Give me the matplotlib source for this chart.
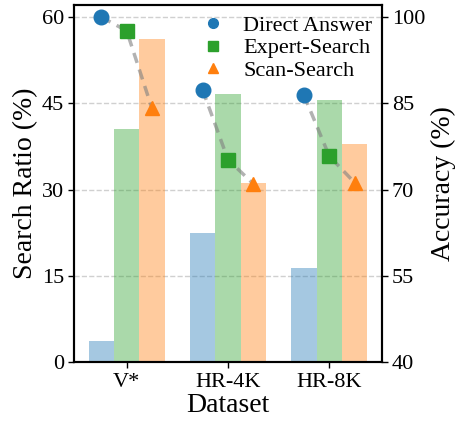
import matplotlib
matplotlib.use("Agg")
import matplotlib.pyplot as plt
import numpy as np
from matplotlib.lines import Line2D

plt.rcParams['font.family'] = ['Liberation Serif', 'DejaVu Serif']
plt.rcParams['mathtext.fontset'] = 'stix'

datasets = ['V*', 'HR-4K', 'HR-8K']
methods = ['Direct Answer', 'Expert-Search', 'Scan-Search']
search_direct = [3.7, 22.5, 16.4]
search_expert = [40.5, 46.6, 45.5]
search_scan = [56.2, 31.2, 38.0]
acc_direct = [100.0, 87.3, 86.4]
acc_expert = [97.6, 75.2, 75.8]
acc_scan = [84.1, 71.0, 71.2]

left_ticks = [0, 15, 30, 45, 60]
right_ticks = [40, 55, 70, 85, 100]

colors = ['#1f77b4', '#2ca02c', '#ff7f0e']
markers = ['o', 's', '^']

fig = plt.figure(figsize=(4.61, 4.21), dpi=100)
ax = fig.add_axes([74/461, 1-362/421, (382-74)/461, (362-5)/421])
ax2 = ax.twinx()

x = np.arange(len(datasets))
w = 0.25
offsets = [-w, 0, w]
search = [search_direct, search_expert, search_scan]
acc = [acc_direct, acc_expert, acc_scan]

for i in range(3):
    ax.bar(x + offsets[i], search[i], width=w, color=colors[i], alpha=0.4, zorder=2)

ax.set_ylim(0, 62.1)
ax2.set_ylim(40, 102.1)
ax.set_xlim(-0.52, 2.52)
ax.set_yticks(left_ticks)
ax2.set_yticks(right_ticks)
ax.set_xticks(x)
ax.set_xticklabels(datasets)
ax.yaxis.grid(True, linestyle='--', color='#d0d0d0', linewidth=1, zorder=0)
ax.set_axisbelow(True)

# dashed connecting lines per dataset
for j in range(len(datasets)):
    xs = [x[j] + o for o in offsets]
    ys = [acc[i][j] for i in range(3)]
    ax2.plot(xs, ys, linestyle=(0, (3, 2)), color='gray', alpha=0.6, linewidth=2.5, zorder=3)

for i in range(3):
    ax2.plot(x + offsets[i], acc[i], linestyle='none', marker=markers[i],
             color=colors[i], markersize=10.5, zorder=4)

for a in (ax, ax2):
    for s in a.spines.values():
        s.set_linewidth(1.5)
    a.tick_params(axis='both', labelsize=16, direction='out', length=4, width=1, pad=3)
ax.tick_params(axis='x', pad=4)

ax.set_ylabel('Search Ratio (%)', fontsize=20, labelpad=3)
ax2.set_ylabel('Accuracy (%)', fontsize=20, labelpad=4)
ax.set_xlabel('Dataset', fontsize=20, labelpad=1)

handles = [Line2D([], [], linestyle='none', marker=markers[i], color=colors[i], markersize=7)
           for i in range(3)]
ax2.legend(handles, methods, loc='upper right', frameon=False, fontsize=16,
           handletextpad=0.5, labelspacing=0.1, borderaxespad=0.05,
           handlelength=1.7)

fig.savefig('out.png', dpi=100)
